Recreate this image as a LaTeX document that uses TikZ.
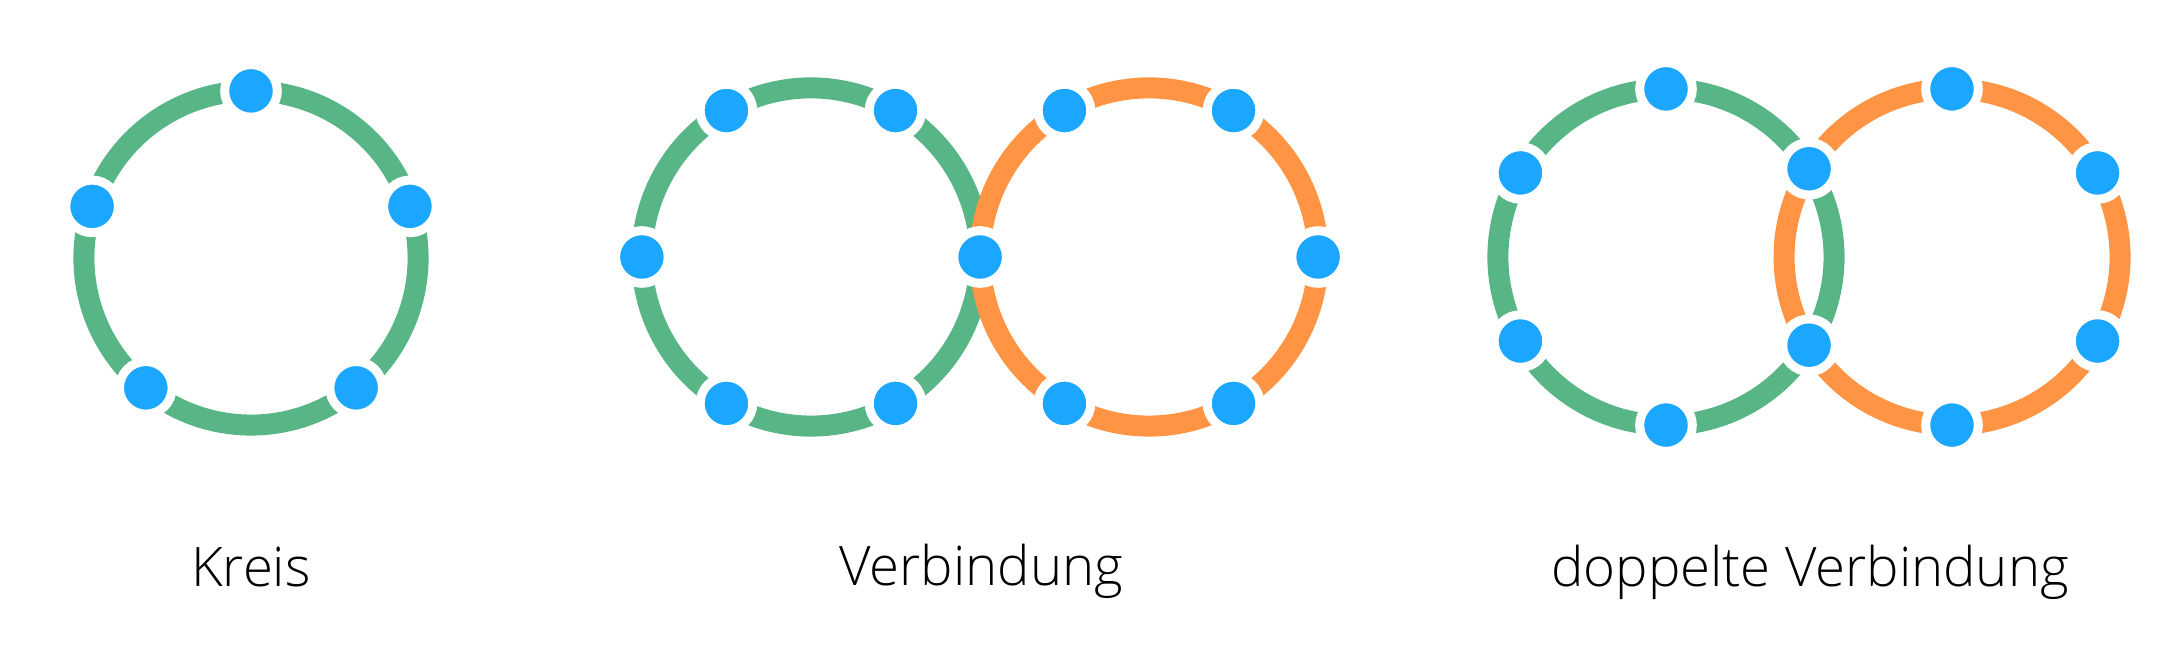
\documentclass[tikz,border=0pt]{standalone}
\usepackage{fontspec}
\setmainfont{Open Sans Light}
\usepackage{tikz}
\usetikzlibrary{backgrounds}
\usepackage{xcolor}

\definecolor{ringgreen}{HTML}{57B586}
\definecolor{ringorange}{HTML}{FF9544}
\definecolor{nodeblue}{HTML}{1BA6FF}

\begin{document}
\begin{tikzpicture}[
    x=0.01cm, y=0.01cm,
    vertex/.style={circle, fill=nodeblue, draw=white, line width=0.09cm, minimum size=0.526cm, inner sep=0pt, outer sep=0pt},
    greenedge/.style={draw=ringgreen, line width=0.21cm},
    orangeedge/.style={draw=ringorange, line width=0.21cm},
    caption/.style={anchor=base, inner sep=0pt, font=\fontsize{15.5pt}{18pt}\selectfont}
  ]
  \useasboundingbox (0,0) rectangle (2177,661);

  % Kreis
  \coordinate (kc) at (251,403);
  \foreach \a [count=\i] in {90,162,231,309,18}
    \node[vertex] (k\i) at ([shift={(\a:1.67cm)}]kc) {};
  \begin{scope}[on background layer]
    \foreach \a/\d [count=\i] in {90/72,162/69,231/78,309/69,18/72}
      \draw[greenedge] (k\i.center) arc[start angle=\a, delta angle=\d, radius=1.67cm];
  \end{scope}

  % Verbindung
  \coordinate (vl) at (811,404);
  \coordinate (vr) at (1149,404);
  \foreach \a [count=\i] in {0,60,120,180,240,300}
    \node[vertex] (l\i) at ([shift={(\a:1.69cm)}]vl) {};
  \foreach \a/\i in {0/1,60/2,120/3,240/5,300/6}
    \node[vertex] (r\i) at ([shift={(\a:1.69cm)}]vr) {};
  \begin{scope}[on background layer]
    \foreach \a [count=\i] in {0,60,120,180,240,300}
      \draw[greenedge] (l\i.center) arc[start angle=\a, delta angle=60, radius=1.69cm];
    \foreach \n/\a in {r1/0,r2/60,r3/120,l1/180,r5/240,r6/300}
      \draw[orangeedge] (\n.center) arc[start angle=\a, delta angle=60, radius=1.69cm];
  \end{scope}

  % doppelte Verbindung
  \pgfmathsetmacro{\th}{acos(143/168)}
  \coordinate (dl) at (1666,404);
  \coordinate (dr) at (1952,404);
  \foreach \a [count=\i] in {\th,90,150,210,270,-\th}
    \node[vertex] (a\i) at ([shift={(\a:1.68cm)}]dl) {};
  \foreach \a/\i in {30/1,90/2,270/5,330/6}
    \node[vertex] (b\i) at ([shift={(\a:1.68cm)}]dr) {};
  \begin{scope}[on background layer]
    \foreach \a/\b [count=\i] in {\th/90,90/150,150/210,210/270,270/360-\th,-\th/\th}
      \draw[greenedge] (a\i.center) arc[start angle=\a, end angle=\b, radius=1.68cm];
    \foreach \n/\a/\b in {b1/30/90,b2/90/180-\th,a1/180-\th/180+\th,a6/180+\th/270,b5/270/330,b6/330/390}
      \draw[orangeedge] (\n.center) arc[start angle=\a, end angle=\b, radius=1.68cm];
  \end{scope}

  % Labels
  \node[caption] (kreis) at (251,74) {Kreis};
  \node[caption] (verb) at (981,75) {Verbindung};
  \node[caption] (dverb) at (1810,74) {doppelte Verbindung};

\end{tikzpicture}
\end{document}
